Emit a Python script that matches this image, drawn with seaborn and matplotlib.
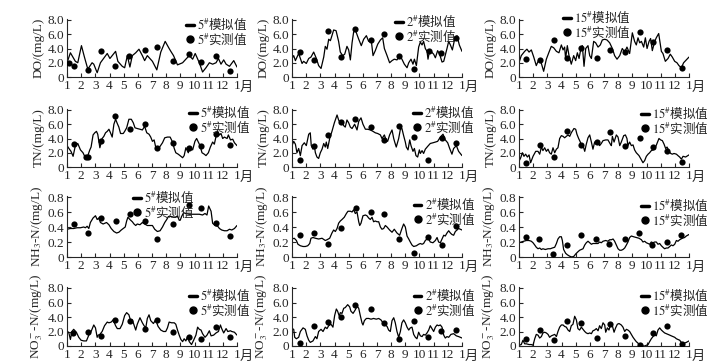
import matplotlib
matplotlib.use('Agg')
import matplotlib.pyplot as plt
import seaborn as sns
from matplotlib.lines import Line2D
from matplotlib.font_manager import FontProperties

# time axis in months after 1 Jan (0 = 1月, 12 = next 1月); (month, value)
do5_sim = [(0.0,2.0),(0.24,3.4),(0.59,2.2),(0.76,2.0),(1.02,4.4),(1.23,2.8),(1.47,1.1),(1.77,2.0),(1.89,1.8),(2.13,0.6),
           (2.36,2.0),(2.84,3.3),(3.03,2.6),(3.43,3.6),(3.59,2.2),(3.9,1.5),(4.07,1.3),(4.26,3.0),(4.44,1.4),(4.61,3.0),
           (4.85,3.4),(5.08,3.9),(5.32,3.0),(5.48,2.3),(5.67,3.0),(6.03,2.2),(6.34,1.0),(6.62,3.5),(6.93,5.0),(7.21,4.0),
           (7.33,3.6),(7.52,3.0),(7.8,1.7),(8.16,2.0),(8.39,2.5),(8.63,3.0),(8.87,2.5),(9.05,3.3),(9.34,2.0),(9.57,0.7),
           (9.81,1.3),(10.05,2.0),(10.28,1.8),(10.52,2.0),(10.69,2.6),(10.87,1.8),(11.06,2.4),(11.23,1.8),(11.47,1.5),
           (11.77,2.3),(12.0,1.4)]
do5_obs = [(0.12,2.0),(0.47,1.5),(1.47,0.95),(2.41,3.6),(3.38,1.6),(4.37,2.9),(5.51,3.8),(6.38,4.2),(7.49,2.25),
           (8.58,3.2),(9.46,2.15),(10.52,3.0),(11.54,0.8)]

do2_sim = [(0,2.6),(0.12,3.0),(0.24,2.3),(0.47,3.3),(0.71,1.9),(0.82,2.2),(1.01,1.9),(1.18,2.6),(1.34,2.8),(1.53,3.5),
           (1.72,2.6),(1.88,1.6),(2.05,1.2),(2.24,2.8),(2.35,4.3),(2.47,3.9),(2.59,5.3),(2.71,5.1),(2.82,5.8),(2.94,6.6),
           (3.11,6.5),(3.29,5.0),(3.41,3.5),(3.58,3.0),(3.72,3.2),(3.88,4.3),(4.0,3.8),(4.12,2.4),(4.24,4.8),(4.35,6.3),
           (4.47,6.6),(4.71,5.3),(4.89,4.4),(5.06,5.3),(5.25,5.8),(5.41,5.0),(5.58,5.4),(5.72,3.0),(5.88,3.7),(6.05,4.6),
           (6.24,5.2),(6.4,5.5),(6.52,4.0),(6.71,3.0),(6.89,2.0),(7.06,2.3),(7.22,2.5),(7.41,2.4),(7.6,3.0),(7.76,2.5),
           (7.93,1.8),(8.12,1.3),(8.24,2.0),(8.4,2.5),(8.54,1.8),(8.64,2.5),(8.78,1.6),(8.94,4.2),(9.06,4.9),(9.18,4.5),
           (9.29,5.0),(9.41,4.0),(9.53,3.6),(9.6,2.5),(9.72,3.8),(9.81,3.6),(10.0,3.2),(10.12,2.7),(10.28,3.7),(10.42,3.2),
           (10.59,2.1),(10.71,2.2),(10.94,4.0),(11.06,5.0),(11.18,4.5),(11.32,3.8),(11.48,5.3),(11.65,5.8),(11.81,4.5),
           (12.0,3.6)]
do2_obs = [(0.54,3.45),(1.53,2.4),(2.52,6.45),(3.46,2.8),(4.47,6.7),(5.6,5.2),(6.47,6.05),(7.58,3.0),(8.59,1.1),
           (9.65,3.7),(10.54,3.35),(11.6,5.45)]

do15_sim = [(0,2.0),(0.16,3.0),(0.4,3.6),(0.56,3.9),(0.71,3.5),(0.87,3.8),(1.04,2.8),(1.22,1.6),(1.41,2.5),(1.58,1.9),
            (1.74,0.8),(1.93,2.5),(2.12,3.5),(2.28,4.3),(2.45,4.1),(2.64,3.6),(2.82,3.4),(2.99,4.5),(3.11,3.8),(3.22,4.2),
            (3.29,2.6),(3.41,4.4),(3.53,3.0),(3.69,1.8),(3.86,3.0),(4.0,2.3),(4.12,3.4),(4.24,2.6),(4.35,3.8),(4.47,4.4),
            (4.59,1.5),(4.71,4.0),(4.87,4.4),(4.99,3.0),(5.11,2.6),(5.27,5.0),(5.41,4.8),(5.58,4.2),(5.74,4.5),(5.88,5.2),
            (6.05,5.3),(6.21,5.2),(6.4,4.8),(6.59,4.0),(6.75,3.0),(6.92,2.5),(7.11,3.0),(7.29,4.0),(7.46,3.5),(7.62,4.2),
            (7.81,3.3),(8.0,6.2),(8.16,5.0),(8.28,4.5),(8.4,5.5),(8.52,4.8),(8.64,5.0),(8.8,4.2),(8.92,5.5),(9.04,4.0),
            (9.18,5.0),(9.29,5.4),(9.41,3.7),(9.58,5.0),(9.69,5.5),(9.86,6.1),(10.05,3.6),(10.16,3.3),(10.33,2.2),
            (10.52,2.6),(10.68,3.2),(10.82,2.8),(10.99,2.2),(11.15,2.0),(11.29,1.6),(11.46,1.3),(11.62,2.0),(11.81,2.4),
            (12.0,2.8)]
do15_obs = [(0.52,2.55),(1.46,2.45),(2.45,5.2),(3.39,2.7),(4.4,4.1),(5.51,2.7),(6.4,3.75),(7.5,3.5),(8.52,6.3),
            (9.46,4.9),(10.47,3.75),(11.51,1.3)]

tn5_sim = [(0,3.0),(0.17,2.5),(0.28,2.2),(0.43,1.5),(0.59,3.0),(0.76,3.3),(0.95,2.4),(1.13,2.0),(1.25,1.5),(1.37,1.3),
           (1.47,1.6),(1.61,2.4),(1.7,2.8),(1.84,4.5),(1.96,4.8),(2.08,5.0),(2.17,4.6),(2.32,2.7),(2.48,4.0),(2.6,4.3),
           (2.72,4.8),(2.84,5.0),(2.96,5.3),(3.07,4.8),(3.19,4.2),(3.31,6.0),(3.43,6.7),(3.55,6.1),(3.66,5.6),(3.78,4.7),
           (3.97,4.7),(4.07,5.0),(4.21,5.5),(4.37,6.7),(4.54,6.7),(4.68,6.2),(4.8,5.5),(4.96,5.4),(5.15,5.3),(5.32,5.2),
           (5.48,5.7),(5.63,4.8),(5.79,4.6),(5.91,4.2),(6.03,3.6),(6.15,3.8),(6.26,2.8),(6.43,2.5),(6.57,2.9),(6.74,3.4),
           (6.9,4.1),(7.09,4.2),(7.28,4.2),(7.45,3.5),(7.57,2.6),(7.68,2.0),(7.85,1.8),(8.04,1.5),(8.16,1.3),(8.27,1.6),
           (8.39,2.7),(8.56,2.0),(8.7,2.8),(8.87,2.4),(9.03,3.6),(9.15,4.0),(9.27,3.5),(9.39,3.0),(9.53,2.0),(9.69,1.8),
           (9.81,1.6),(9.98,2.0),(10.12,2.8),(10.28,3.5),(10.4,3.2),(10.52,4.3),(10.64,5.0),(10.76,4.5),(10.87,4.7),
           (10.99,4.0),(11.11,4.2),(11.3,4.0),(11.39,4.5),(11.54,3.8),(11.7,3.9),(11.82,3.4),(12.0,3.0)]
tn5_obs = [(0.47,3.2),(1.33,1.35),(1.47,1.35),(2.43,3.6),(3.38,7.2),(4.42,5.4),(5.51,6.1),(6.38,2.7),(7.49,3.4),
           (8.58,2.6),(9.46,3.0),(10.52,4.7),(11.54,3.1)]

tn2_sim = [(0,3.0),(0.12,3.6),(0.24,3.2),(0.35,2.0),(0.47,2.6),(0.59,1.6),(0.71,3.0),(0.87,3.4),(1.01,3.0),(1.18,4.6),
           (1.29,4.8),(1.36,3.0),(1.48,2.5),(1.58,2.9),(1.65,2.0),(1.76,1.4),(1.88,1.2),(2.0,2.0),(2.12,2.5),(2.24,3.3),
           (2.35,2.8),(2.42,3.5),(2.52,2.6),(2.66,4.0),(2.82,5.0),(2.99,6.2),(3.18,7.3),(3.29,6.6),(3.41,6.2),(3.53,6.4),
           (3.65,5.8),(3.76,5.6),(3.88,6.6),(4.0,6.2),(4.12,5.6),(4.24,5.4),(4.42,6.0),(4.59,5.2),(4.71,6.4),(4.87,6.9),
           (5.01,6.0),(5.18,5.3),(5.34,5.3),(5.53,5.2),(5.72,5.0),(5.88,4.8),(6.05,4.7),(6.24,4.5),(6.35,4.0),(6.52,4.5),
           (6.64,3.8),(6.75,3.6),(6.89,4.5),(7.06,5.2),(7.18,4.0),(7.25,3.5),(7.36,2.8),(7.53,4.0),(7.65,5.3),(7.76,5.4),
           (7.88,4.4),(8.0,3.5),(8.07,2.8),(8.19,2.4),(8.31,3.8),(8.4,3.0),(8.54,2.2),(8.64,2.6),(8.75,1.6),(8.87,1.4),
           (8.99,2.4),(9.06,1.9),(9.18,2.3),(9.29,1.9),(9.41,2.5),(9.58,2.9),(9.76,3.3),(9.95,3.4),(10.12,3.5),
           (10.28,3.6),(10.47,4.2),(10.66,4.6),(10.82,3.8),(10.99,3.4),(11.13,2.6),(11.29,1.8),(11.41,2.6),(11.6,3.0),
           (11.76,2.2),(12.0,1.6)]
tn2_obs = [(0.54,1.05),(1.53,2.95),(2.52,4.55),(3.46,6.35),(4.47,6.8),(5.6,5.55),(6.47,3.85),(7.58,5.75),(8.59,4.15),
           (9.58,1.05),(10.59,4.1),(11.6,3.4)]

tn15_sim = [(0,0.8),(0.12,1.3),(0.24,2.0),(0.35,1.5),(0.47,1.8),(0.59,1.4),(0.71,1.7),(0.82,0.6),(0.99,1.5),(1.18,2.2),
            (1.34,2.2),(1.46,1.8),(1.58,2.8),(1.69,2.3),(1.81,2.7),(1.93,2.2),(2.05,2.5),(2.16,2.0),(2.28,1.8),(2.4,2.7),
            (2.52,2.0),(2.64,2.5),(2.75,2.7),(2.87,4.0),(2.99,4.4),(3.11,4.3),(3.22,4.1),(3.34,4.3),(3.46,4.5),(3.58,4.3),
            (3.69,4.8),(3.88,5.4),(4.0,5.3),(4.09,4.6),(4.21,4.0),(4.33,3.5),(4.4,2.8),(4.52,3.0),(4.64,2.2),(4.75,3.2),
            (4.87,4.1),(4.99,4.5),(5.11,3.5),(5.22,2.5),(5.34,3.5),(5.46,3.2),(5.58,3.6),(5.69,3.0),(5.81,3.3),(5.93,3.7),
            (6.12,3.8),(6.28,3.8),(6.45,3.2),(6.52,3.0),(6.59,4.3),(6.71,3.5),(6.87,4.5),(6.99,4.2),(7.11,3.0),(7.22,3.5),
            (7.39,4.4),(7.51,4.5),(7.62,4.0),(7.69,3.0),(7.81,3.5),(7.93,3.0),(8.05,3.1),(8.16,2.4),(8.28,2.0),(8.47,1.6),
            (8.64,1.0),(8.75,0.6),(8.87,0.9),(8.99,1.5),(9.11,1.8),(9.22,2.0),(9.34,2.3),(9.46,2.4),(9.58,2.5),(9.74,3.3),
            (9.88,4.0),(10.0,3.8),(10.12,3.7),(10.24,3.2),(10.35,2.6),(10.45,2.8),(10.59,2.2),(10.71,1.9),(10.82,1.8),
            (10.94,1.9),(11.11,1.8),(11.22,1.6),(11.34,1.4),(11.46,1.1),(11.58,1.5),(11.76,1.4),(12.0,1.7)]
tn15_obs = [(0.52,0.5),(1.46,3.05),(2.45,1.4),(3.39,5.05),(4.4,3.05),(5.51,3.45),(6.4,4.85),(7.5,2.95),(8.52,4.1),
            (9.46,2.8),(10.47,2.2),(11.51,0.7)]

nh5_sim = [(0,0.37),(0.24,0.38),(0.47,0.38),(0.71,0.39),(0.95,0.39),(1.18,0.40),(1.3,0.39),(1.42,0.41),(1.54,0.38),
           (1.65,0.46),(1.84,0.52),(2.01,0.55),(2.13,0.50),(2.25,0.52),(2.36,0.46),(2.55,0.44),(2.79,0.46),(2.96,0.43),
           (3.12,0.38),(3.31,0.34),(3.5,0.32),(3.66,0.33),(3.83,0.36),(3.97,0.38),(4.11,0.40),(4.21,0.48),(4.3,0.53),
           (4.44,0.50),(4.61,0.47),(4.73,0.44),(4.85,0.42),(4.96,0.44),(5.15,0.43),(5.32,0.46),(5.48,0.44),(5.67,0.42),
           (5.86,0.42),(6.03,0.42),(6.19,0.37),(6.38,0.34),(6.57,0.35),(6.74,0.40),(6.9,0.46),(7.04,0.50),(7.16,0.54),
           (7.33,0.54),(7.52,0.53),(7.68,0.53),(7.8,0.55),(7.92,0.49),(7.99,0.49),(8.09,0.54),(8.23,0.59),(8.39,0.58),
           (8.63,0.57),(8.87,0.57),(9.1,0.57),(9.34,0.57),(9.57,0.56),(9.74,0.58),(9.88,0.56),(10.0,0.68),(10.17,0.61),
           (10.28,0.45),(10.45,0.42),(10.64,0.41),(10.76,0.38),(10.92,0.36),(11.11,0.35),(11.3,0.35),(11.47,0.37),
           (11.63,0.36),(11.82,0.38),(12.0,0.42)]
nh5_obs = [(0.47,0.445),(1.47,0.32),(2.41,0.52),(3.43,0.475),(4.42,0.58),(5.51,0.48),(6.38,0.235),(7.49,0.445),
           (8.58,0.70),(9.46,0.655),(10.52,0.455),(11.54,0.28)]

nh2_sim = [(0,0.24),(0.16,0.25),(0.31,0.22),(0.42,0.17),(0.59,0.15),(0.78,0.14),(0.94,0.14),(1.11,0.15),(1.25,0.18),
           (1.34,0.25),(1.48,0.26),(1.65,0.25),(1.88,0.24),(2.12,0.25),(2.35,0.22),(2.47,0.23),(2.66,0.25),(2.82,0.32),
           (2.94,0.36),(3.06,0.34),(3.18,0.38),(3.29,0.45),(3.41,0.48),(3.53,0.50),(3.69,0.53),(3.84,0.58),(3.95,0.61),
           (4.12,0.61),(4.24,0.60),(4.35,0.63),(4.47,0.58),(4.59,0.60),(4.71,0.47),(4.78,0.42),(4.87,0.45),(5.01,0.55),
           (5.18,0.56),(5.29,0.55),(5.41,0.52),(5.53,0.50),(5.65,0.53),(5.76,0.47),(5.88,0.48),(6.0,0.47),(6.12,0.47),
           (6.24,0.40),(6.35,0.37),(6.47,0.38),(6.59,0.42),(6.71,0.40),(6.89,0.36),(7.06,0.33),(7.22,0.37),(7.41,0.32),
           (7.6,0.29),(7.76,0.38),(7.88,0.44),(8.0,0.40),(8.12,0.28),(8.24,0.24),(8.35,0.20),(8.47,0.16),(8.59,0.14),
           (8.78,0.15),(8.94,0.17),(9.06,0.18),(9.18,0.17),(9.29,0.18),(9.41,0.22),(9.53,0.24),(9.65,0.24),(9.76,0.20),
           (9.95,0.19),(10.12,0.22),(10.24,0.26),(10.35,0.20),(10.47,0.19),(10.59,0.24),(10.71,0.29),(10.82,0.28),
           (10.94,0.32),(11.06,0.35),(11.18,0.32),(11.29,0.30),(11.41,0.29),(11.53,0.34),(11.65,0.36),(11.76,0.38),
           (11.88,0.37),(12.0,0.36)]
nh2_obs = [(0.59,0.29),(1.53,0.325),(2.52,0.18),(3.48,0.39),(4.52,0.66),(5.58,0.60),(6.47,0.58),(7.58,0.245),
           (8.59,0.055),(9.58,0.27),(10.59,0.155),(11.6,0.42)]

nh15_sim = [(0,0.19),(0.16,0.20),(0.33,0.21),(0.52,0.22),(0.71,0.22),(0.87,0.21),(0.99,0.19),(1.11,0.16),(1.22,0.13),
            (1.34,0.11),(1.46,0.12),(1.58,0.10),(1.69,0.11),(1.86,0.10),(2.05,0.11),(2.21,0.11),(2.35,0.12),(2.52,0.13),
            (2.64,0.18),(2.75,0.24),(2.87,0.27),(2.99,0.27),(3.06,0.22),(3.15,0.10),(3.29,0.05),(3.41,0.03),(3.58,0.01),
            (3.74,0.0),(3.88,0.01),(4.0,0.04),(4.16,0.07),(4.28,0.09),(4.4,0.10),(4.52,0.11),(4.64,0.16),(4.75,0.19),
            (4.87,0.21),(4.99,0.19),(5.11,0.17),(5.22,0.18),(5.41,0.18),(5.58,0.18),(5.69,0.20),(5.81,0.19),(5.93,0.21),
            (6.12,0.22),(6.28,0.21),(6.4,0.23),(6.52,0.23),(6.64,0.24),(6.75,0.21),(6.87,0.16),(6.99,0.11),(7.11,0.09),
            (7.22,0.09),(7.34,0.10),(7.46,0.12),(7.58,0.16),(7.69,0.20),(7.81,0.26),(7.93,0.28),(8.09,0.27),(8.28,0.26),
            (8.47,0.25),(8.64,0.23),(8.75,0.20),(8.87,0.21),(8.99,0.19),(9.11,0.18),(9.22,0.17),(9.34,0.20),(9.46,0.19),
            (9.58,0.20),(9.69,0.20),(9.81,0.17),(9.93,0.18),(10.05,0.15),(10.16,0.13),(10.28,0.11),(10.4,0.12),
            (10.52,0.12),(10.64,0.14),(10.75,0.16),(10.87,0.15),(10.99,0.17),(11.11,0.22),(11.22,0.21),(11.34,0.23),
            (11.53,0.25),(11.69,0.26),(11.81,0.28),(12.0,0.30)]
nh15_obs = [(0.47,0.265),(1.41,0.245),(2.4,0.045),(3.39,0.155),(4.35,0.30),(5.46,0.245),(6.35,0.18),(7.46,0.235),
            (8.47,0.325),(9.41,0.155),(10.47,0.20),(11.46,0.30)]

no5_sim = [(0,2.0),(0.12,1.9),(0.24,0.9),(0.35,2.0),(0.47,2.3),(0.66,1.9),(0.83,1.2),(0.99,0.8),(1.18,0.7),(1.37,0.7),
           (1.54,1.5),(1.7,2.0),(1.89,2.9),(2.01,2.5),(2.13,1.2),(2.2,1.5),(2.32,1.6),(2.48,2.0),(2.65,2.8),(2.84,3.3),
           (2.96,3.2),(3.12,3.3),(3.26,3.6),(3.43,2.8),(3.55,2.4),(3.74,2.4),(3.9,3.0),(4.07,4.2),(4.21,4.6),(4.37,4.3),
           (4.49,3.5),(4.61,3.6),(4.73,2.9),(4.85,2.2),(4.96,3.0),(5.15,3.9),(5.32,3.2),(5.44,2.8),(5.56,2.5),(5.67,3.8),
           (5.79,4.3),(5.91,3.5),(6.1,3.1),(6.26,3.6),(6.43,2.7),(6.62,2.2),(6.81,2.0),(6.97,2.0),(7.09,2.5),(7.21,3.3),
           (7.38,3.2),(7.57,3.2),(7.68,3.0),(7.8,2.2),(7.92,1.5),(8.04,0.9),(8.16,0.6),(8.27,1.0),(8.39,0.7),(8.51,1.3),
           (8.63,0.6),(8.79,0.2),(8.94,0.8),(9.1,1.5),(9.22,2.6),(9.34,2.3),(9.46,2.2),(9.57,1.7),(9.74,1.2),(9.88,1.5),
           (10.05,2.1),(10.17,1.4),(10.35,1.5),(10.52,1.8),(10.69,2.0),(10.83,2.9),(10.92,2.4),(11.06,1.8),(11.23,2.4),
           (11.35,2.0),(11.54,2.1),(11.63,2.0),(11.82,1.9),(12.0,1.5)]
no5_obs = [(0.43,1.85),(1.47,1.9),(2.43,1.4),(3.38,3.6),(4.42,3.45),(5.51,2.3),(6.38,3.6),(7.49,1.95),(8.58,1.3),
           (9.46,0.95),(10.52,2.6),(11.54,1.2)]

no2_sim = [(0,2.4),(0.12,2.3),(0.19,1.2),(0.31,1.0),(0.47,1.2),(0.59,2.0),(0.78,2.5),(0.94,2.3),(1.06,1.4),(1.18,0.8),
           (1.29,0.5),(1.48,0.7),(1.65,1.3),(1.76,1.0),(1.88,2.0),(2.05,2.3),(2.19,2.0),(2.35,2.6),(2.47,2.4),(2.59,2.8),
           (2.75,3.0),(2.89,2.6),(3.01,4.2),(3.13,5.1),(3.22,4.8),(3.34,4.1),(3.41,4.6),(3.53,4.5),(3.65,5.2),(3.76,5.3),
           (3.93,5.7),(4.07,5.4),(4.16,4.8),(4.31,4.5),(4.47,5.0),(4.59,5.5),(4.71,5.2),(4.82,4.2),(4.94,3.2),(5.01,2.9),
           (5.11,3.5),(5.25,3.8),(5.41,3.8),(5.58,3.7),(5.76,3.8),(5.95,3.7),(6.12,3.8),(6.28,3.6),(6.42,3.2),(6.59,2.9),
           (6.71,2.7),(6.82,2.2),(6.94,2.0),(7.06,3.5),(7.18,3.9),(7.29,3.2),(7.41,2.0),(7.53,1.2),(7.65,2.0),(7.76,3.2),
           (7.88,3.6),(8.0,3.2),(8.12,2.6),(8.24,2.2),(8.35,2.5),(8.47,2.6),(8.59,1.6),(8.71,1.2),(8.82,1.0),(8.94,1.9),
           (9.06,1.4),(9.18,1.3),(9.29,1.6),(9.41,1.5),(9.53,1.8),(9.65,2.2),(9.76,2.8),(9.88,2.4),(10.0,2.0),
           (10.12,2.6),(10.24,2.9),(10.35,2.8),(10.47,2.9),(10.59,2.6),(10.71,1.5),(10.82,1.1),(10.94,1.3),(11.06,1.2),
           (11.22,1.6),(11.41,1.7),(11.6,1.4),(11.76,1.3),(12.0,1.1)]
no2_obs = [(0.59,0.45),(1.53,2.7),(2.52,3.25),(3.48,4.0),(4.47,5.6),(5.58,5.1),(6.47,3.15),(7.58,0.95),(8.59,3.5),
           (9.58,1.2),(10.54,2.1),(11.6,2.2)]

no15_sim = [(0,0.1),(0.16,0.2),(0.28,0.8),(0.4,0.3),(0.52,0.3),(0.71,0.2),(0.87,0.2),(0.99,0.1),(1.11,1.0),(1.22,1.6),
            (1.34,1.5),(1.46,1.1),(1.58,1.3),(1.69,1.8),(1.81,1.9),(1.93,1.8),(2.05,1.6),(2.16,1.2),(2.28,1.4),(2.4,1.5),
            (2.52,1.6),(2.64,1.3),(2.75,2.0),(2.87,2.6),(2.99,2.9),(3.11,2.9),(3.22,2.7),(3.34,2.6),(3.46,2.2),(3.58,2.0),
            (3.69,2.8),(3.81,3.0),(3.93,4.1),(4.05,3.6),(4.16,2.4),(4.28,2.2),(4.4,2.6),(4.52,2.3),(4.64,2.0),(4.75,1.8),
            (4.87,1.7),(4.99,1.8),(5.11,1.7),(5.22,2.1),(5.34,2.2),(5.46,2.4),(5.58,2.1),(5.69,2.8),(5.81,2.4),(5.93,3.2),
            (6.05,2.9),(6.12,1.9),(6.24,2.5),(6.35,2.2),(6.47,3.0),(6.59,2.8),(6.71,1.9),(6.82,2.5),(6.94,3.0),(7.06,3.1),
            (7.22,2.9),(7.34,2.6),(7.46,2.0),(7.58,2.3),(7.69,2.2),(7.81,2.0),(7.93,1.6),(8.05,1.2),(8.16,0.9),(8.28,0.6),
            (8.4,0.4),(8.47,0.1),(8.64,0.0),(8.75,0.0),(8.87,0.0),(8.99,0.1),(9.11,0.2),(9.22,0.6),(9.34,1.0),(9.46,1.3),
            (9.58,1.6),(9.69,1.4),(9.81,2.2),(9.93,2.5),(10.05,2.2),(10.16,2.0),(10.28,1.8),(10.4,1.7),(10.52,1.6),
            (10.64,1.5),(10.75,1.4),(10.87,1.3),(10.99,1.2),(11.11,1.0),(11.22,0.9),(11.34,0.8),(11.46,0.5),(11.58,0.3),
            (11.69,0.4),(11.81,0.5),(12.0,0.7)]
no15_obs = [(0.52,1.0),(1.46,2.2),(2.45,0.85),(3.39,3.4),(4.4,3.15),(5.51,1.15),(6.4,3.0),(7.5,1.4),(8.52,0.1),
            (9.46,1.75),(10.47,2.7),(11.51,0.25)]

stations = ['5', '2', '15']
month_labels = ['1', '2', '3', '4', '5', '6', '7', '8', '9', '10', '11', '12', '1']
ylabels = ['DO/(mg/L)', 'TN/(mg/L)', 'NH$_3$-N/(mg/L)', 'NO$_3^-$-N/(mg/L)']
yticks_big = [0, 2, 4, 6, 8]
yticklabels_big = ['0', '2.0', '4.0', '6.0', '8.0']
yticks_small = [0, 0.2, 0.4, 0.6, 0.8]
yticklabels_small = ['0', '0.2', '0.4', '0.6', '0.8']

grid = [[(do5_sim, do5_obs), (do2_sim, do2_obs), (do15_sim, do15_obs)],
        [(tn5_sim, tn5_obs), (tn2_sim, tn2_obs), (tn15_sim, tn15_obs)],
        [(nh5_sim, nh5_obs), (nh2_sim, nh2_obs), (nh15_sim, nh15_obs)],
        [(no5_sim, no5_obs), (no2_sim, no2_obs), (no15_sim, no15_obs)]]

sns.set_style('ticks')
plt.rcParams['font.family'] = ['Liberation Serif', 'Noto Sans CJK SC']
plt.rcParams['mathtext.fontset'] = 'stix'
plt.rcParams['mathtext.default'] = 'rm'
plt.rcParams['xtick.direction'] = 'in'
plt.rcParams['ytick.direction'] = 'in'
plt.rcParams['axes.linewidth'] = 0.8

W, H = 720, 363
fig = plt.figure(figsize=(7.2, 3.63), dpi=100)

# pixel layout: left edge of each column, and (y of top tick, y of zero) per row
col_left = [67, 292, 519]
ax_w = 170
rows_px = [(20, 77), (110, 167), (197, 257), (288, 346)]
# legend anchors (left, top) in pixels
leg_px = [[(186, 16), (395, 13), (563, 9)],
          [(189, 104), (413, 104), (641, 105)],
          [(133, 189), (414, 196), (641, 197)],
          [(189, 287), (414, 287), (641, 287)]]

cjk = FontProperties(family=['Noto Sans CJK SC'], size=9)

for r in range(4):
    small = (r == 2)
    ymax = 0.8 if small else 8.0
    top_tick, zero = rows_px[r]
    ext = 1.02
    top = zero - (zero - top_tick) * ext
    for c in range(3):
        sim, obs = grid[r][c]
        ax = fig.add_axes([col_left[c] / W, 1 - zero / H, ax_w / W, (zero - top) / H])
        st, sv = zip(*sim)
        ot, ov = zip(*obs)
        sns.lineplot(x=list(st), y=list(sv), ax=ax, color='black', lw=0.9,
                     estimator=None, sort=False)
        sns.scatterplot(x=list(ot), y=list(ov), ax=ax, color='black', s=20,
                        linewidth=0, legend=False, zorder=3)
        ax.set_xlim(0, 12)
        ax.set_ylim(0, ymax * ext)
        ax.set_xticks(range(13))
        ax.set_xticklabels(month_labels)
        if small:
            ax.set_yticks(yticks_small)
            ax.set_yticklabels(yticklabels_small)
        else:
            ax.set_yticks(yticks_big)
            ax.set_yticklabels(yticklabels_big)
        ax.tick_params(labelsize=9.5, length=3, width=0.8, pad=2)
        ax.set_ylabel(ylabels[r], fontsize=9.5, labelpad=2)
        sns.despine(ax=ax)
        ax.annotate('月', xy=(12, 0), xycoords=('data', 'axes fraction'),
                    xytext=(6.5, -2.5), textcoords='offset points',
                    ha='center', va='top', fontsize=9.5, family=['Noto Sans CJK SC'])
        h_sim = Line2D([], [], color='black', lw=2.5)
        h_obs = Line2D([], [], color='black', marker='o', ls='', ms=5)
        s = stations[c]
        lx, ly = leg_px[r][c]
        ax.legend([h_sim, h_obs], [f'${s}^{{\\#}}$模拟值', f'${s}^{{\\#}}$实测值'],
                  loc='upper left', bbox_to_anchor=(lx / W, 1 - ly / H),
                  bbox_transform=fig.transFigure, frameon=False, prop=cjk,
                  handlelength=0.6, handletextpad=0.3, labelspacing=-0.12,
                  borderpad=0, borderaxespad=0)

fig.savefig('out.png', dpi=100)
